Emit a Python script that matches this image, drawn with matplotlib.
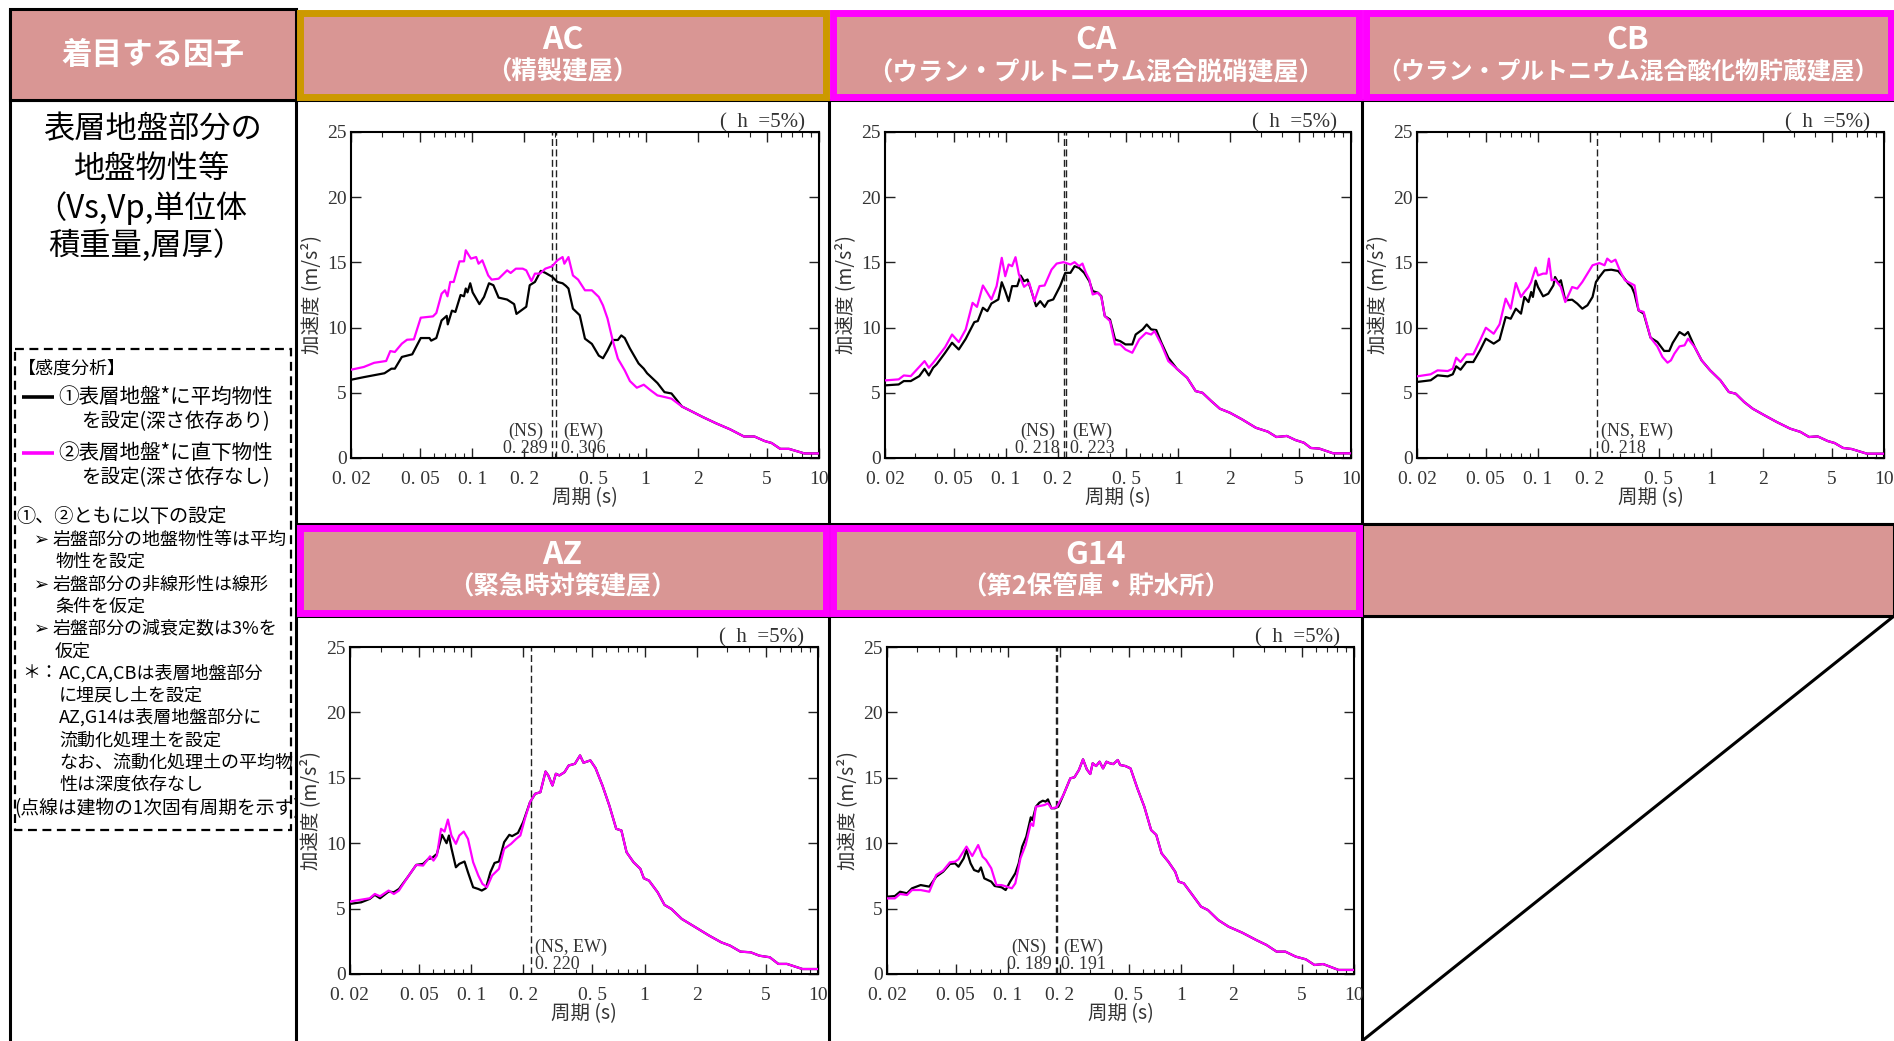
import matplotlib
matplotlib.use("Agg")
import matplotlib.pyplot as plt
from matplotlib.patches import Rectangle
from matplotlib.ticker import NullFormatter

plt.rcParams['font.family'] = ['Noto Sans CJK JP', 'DejaVu Sans']

W, H = 1894, 1041
PINK = '#D99694'
GOLD = '#CC9900'
MAGENTA = '#FF00FF'
GRAY = '#333333'
SERIF = ['Liberation Serif', 'DejaVu Serif']

# ---------------- data: response spectra (period s, acceleration m/s2) ----------------
# AC
ac_black_T = [0.020, 0.0237, 0.0312, 0.0342, 0.0358, 0.0393, 0.0451, 0.0505, 0.0567, 0.058, 0.0621,
              0.0666, 0.0713, 0.0723, 0.0764, 0.080, 0.0857, 0.0897, 0.0918, 0.0939, 0.0974, 0.1006,
              0.110, 0.117, 0.125, 0.1325, 0.142, 0.159, 0.1745, 0.180, 0.191, 0.205, 0.2146, 0.230,
              0.2486, 0.264, 0.289, 0.310, 0.332, 0.347, 0.359, 0.381, 0.417, 0.447, 0.490, 0.537,
              0.568, 0.603, 0.646, 0.692, 0.724, 0.758, 0.812, 0.911, 0.976, 1.02, 1.17, 1.285, 1.41,
              1.62, 1.86, 2.13, 2.56, 3.07, 3.69, 4.24, 4.86, 5.33, 5.98, 6.71, 8.24, 10.0]
ac_black_A = [6.0, 6.2, 6.5, 6.85, 6.85, 7.75, 7.95, 9.2, 9.2, 9.0, 9.2,
              10.55, 10.9, 10.25, 11.3, 11.2, 12.5, 12.4, 13.0, 12.7, 13.4, 12.7,
              11.8, 12.35, 13.4, 13.25, 12.3, 12.15, 11.8, 11.05, 11.3, 11.6, 13.25, 13.5,
              14.35, 14.2, 13.9, 13.5, 13.4, 13.2, 13.0, 11.45, 10.95, 9.15, 8.75, 7.85,
              7.65, 8.25, 9.05, 9.05, 9.4, 9.2, 8.4, 7.25, 6.85, 6.5, 5.75, 5.05, 4.95,
              3.95, 3.55, 3.15, 2.65, 2.2, 1.65, 1.65, 1.3, 1.15, 0.7, 0.7, 0.35, 0.35]
ac_mag_T = [0.020, 0.0237, 0.0272, 0.0319, 0.0337, 0.0358, 0.0393, 0.0421, 0.0461, 0.0505, 0.0594,
            0.0621, 0.0666, 0.0697, 0.072, 0.0747, 0.0782, 0.0845, 0.0897, 0.0918, 0.0983, 0.1054,
            0.1088, 0.1144, 0.1237, 0.1295, 0.142, 0.159, 0.1667, 0.1786, 0.1957, 0.205, 0.2196,
            0.230, 0.2462, 0.264, 0.289, 0.310, 0.332, 0.340, 0.359, 0.381, 0.408, 0.447, 0.490,
            0.537, 0.568, 0.603, 0.646, 0.692, 0.758, 0.812, 0.890, 0.976, 1.069, 1.17, 1.285,
            1.41, 1.62, 1.86, 2.13, 2.56, 3.07, 3.69, 4.24, 4.86, 5.33, 5.98, 6.71, 8.24, 10.0]
ac_mag_A = [6.77, 6.98, 7.3, 7.44, 8.2, 8.13, 8.77, 9.07, 9.1, 10.76, 10.86,
            11.12, 12.6, 12.86, 12.4, 13.5, 13.5, 15.08, 15.08, 15.93, 15.29, 15.41,
            14.9, 15.16, 14.0, 13.68, 13.75, 14.39, 14.19, 14.52, 14.52, 14.39, 13.57,
            14.14, 14.14, 14.52, 14.7, 15.16, 15.41, 14.9, 15.41, 14.0, 13.68, 12.86, 12.86,
            12.35, 11.7, 10.7, 9.02, 7.62, 6.72, 5.9, 5.39, 5.62, 5.19, 4.8, 4.68,
            4.55, 3.95, 3.55, 3.15, 2.65, 2.2, 1.65, 1.65, 1.3, 1.15, 0.7, 0.7, 0.35, 0.35]

# CA
ca_black_T = [0.020, 0.0240, 0.0257, 0.0282, 0.0316, 0.0339, 0.0359, 0.0380, 0.0398, 0.0446, 0.0489,
              0.0535, 0.0587, 0.0658, 0.0689, 0.0738, 0.0783, 0.0827, 0.0907, 0.0949, 0.0994, 0.104,
              0.1089, 0.1166, 0.1221, 0.1278, 0.1338, 0.140, 0.150, 0.1585, 0.168, 0.176, 0.1886,
              0.2066, 0.2214, 0.2372, 0.2506, 0.266, 0.2848, 0.305, 0.319, 0.342, 0.358, 0.375, 0.402,
              0.430, 0.461, 0.494, 0.541, 0.566, 0.621, 0.656, 0.696, 0.745, 0.798, 0.875]
ca_black_A = [5.57, 5.64, 5.9, 5.9, 6.28, 6.84, 6.33, 6.92, 7.18, 8.07, 8.84,
              8.32, 9.14, 10.42, 10.5, 11.52, 11.26, 11.85, 12.16, 13.48, 12.8, 12.03,
              13.18, 13.18, 13.99, 13.56, 13.69, 12.92, 11.64, 12.03, 11.59, 12.03, 12.16,
              13.18, 14.2, 14.2, 14.71, 14.58, 14.2, 13.56, 12.8, 12.67, 12.41, 10.88, 10.62,
              9.09, 8.96, 8.71, 8.71, 9.47, 9.86, 10.24, 9.86, 9.81, 8.84, 7.69]
ca_mag_T = [0.020, 0.0240, 0.0257, 0.0282, 0.0339, 0.0359, 0.0380, 0.0446, 0.0489, 0.0535, 0.0587,
            0.0643, 0.0682, 0.0738, 0.0827, 0.0886, 0.0949, 0.0994, 0.104, 0.1089, 0.114, 0.1193,
            0.1278, 0.1369, 0.1466, 0.157, 0.168, 0.1844, 0.1974, 0.2164, 0.2372, 0.2506, 0.266,
            0.2784, 0.2914, 0.305, 0.319, 0.342, 0.358, 0.375, 0.402, 0.430, 0.461, 0.494, 0.541,
            0.593, 0.650, 0.696, 0.728, 0.798, 0.875]
ca_mag_A = [5.95, 6.03, 6.33, 6.28, 7.43, 6.92, 7.3, 8.5, 9.47, 8.89, 9.86,
            11.9, 11.59, 13.23, 12.16, 13.18, 15.35, 13.94, 14.84, 14.71, 15.4, 14.07,
            13.13, 13.43, 12.03, 13.18, 13.23, 14.45, 14.91, 15.02, 14.84, 15.02, 14.71,
            14.91, 14.2, 13.69, 12.54, 12.67, 12.36, 10.88, 10.5, 8.71, 8.71, 8.32, 8.07,
            9.09, 9.6, 9.47, 9.73, 8.71, 7.43]
ca_tail_T = [0.981, 1.125, 1.26, 1.38, 1.55, 1.74, 1.99, 2.34, 2.81, 3.30, 3.70, 4.25, 4.76,
             5.34, 5.85, 6.56, 7.88, 10.0]
ca_tail_A = [6.84, 6.15, 5.13, 5.0, 4.37, 3.78, 3.47, 2.96, 2.32, 2.02, 1.61, 1.69, 1.38,
             1.17, 0.77, 0.72, 0.36, 0.36]

# CB
cb_black_T = [0.020, 0.0240, 0.0263, 0.0301, 0.0322, 0.0337, 0.0357, 0.0386, 0.0423, 0.0463, 0.0500,
              0.0555, 0.0600, 0.0651, 0.0696, 0.0745, 0.0798, 0.0835, 0.0882, 0.0914, 0.0935, 0.0970,
              0.1001, 0.1071, 0.1147, 0.1228, 0.1256, 0.1314, 0.1357, 0.1439, 0.1576, 0.1687, 0.1805,
              0.1932, 0.2068, 0.2164, 0.2265, 0.2425, 0.2654, 0.2907, 0.3112, 0.3330, 0.3484, 0.3614,
              0.3816, 0.4084, 0.4474, 0.4898, 0.5362, 0.5738, 0.6006, 0.6576, 0.704, 0.7368, 0.8066]
cb_black_A = [5.83, 5.96, 6.34, 6.26, 6.42, 7.03, 6.77, 7.36, 7.36, 8.26, 9.15,
              8.77, 9.07, 10.81, 10.68, 11.45, 11.07, 12.35, 11.96, 12.73, 12.35, 13.6,
              13.11, 12.4, 12.6, 13.24, 13.88, 13.42, 13.63, 12.09, 12.14, 11.84, 11.45,
              11.71, 12.35, 13.5, 13.88, 14.39, 14.44, 14.34, 13.88, 13.37, 13.11, 12.6,
              11.32, 11.07, 9.23, 8.9, 8.21, 8.21, 8.82, 9.66, 9.41, 9.66, 8.49]
cb_mag_T = [0.020, 0.0240, 0.0263, 0.0301, 0.0322, 0.0337, 0.0357, 0.0386, 0.0423, 0.0463, 0.0500,
            0.0555, 0.0600, 0.0651, 0.0696, 0.0745, 0.0798, 0.0835, 0.0882, 0.0914, 0.0970, 0.1001,
            0.1071, 0.1121, 0.1157, 0.1200, 0.1256, 0.1357, 0.1439, 0.1576, 0.1687, 0.1805, 0.1932,
            0.2068, 0.2265, 0.2425, 0.2514, 0.2654, 0.2804, 0.2974, 0.3182, 0.3406, 0.3614, 0.3816,
            0.4084, 0.4474, 0.4898, 0.5242, 0.561, 0.587, 0.6144, 0.6576, 0.704, 0.7368, 0.8066]
cb_mag_A = [6.26, 6.42, 6.72, 6.67, 6.85, 7.69, 7.36, 7.95, 7.95, 9.02, 9.99,
            9.53, 10.25, 12.22, 11.45, 13.42, 12.35, 12.73, 13.11, 13.5, 14.6, 14.0,
            14.14, 14.14, 15.29, 13.63, 13.68, 13.11, 11.96, 13.11, 12.99, 13.5, 14.14,
            14.78, 14.95, 14.78, 15.29, 15.03, 15.21, 14.39, 13.63, 13.42, 13.24, 11.32,
            11.2, 9.23, 8.56, 7.75, 7.31, 7.49, 8.0, 8.56, 8.64, 9.15, 8.49]
cb_tail_T = [0.883, 0.989, 1.133, 1.269, 1.39, 1.557, 1.744, 2.04, 2.40, 2.87, 3.29, 3.69, 4.13,
             4.73, 5.18, 5.80, 6.50, 7.97, 10.0]
cb_tail_A = [7.49, 6.72, 5.96, 5.06, 4.93, 4.29, 3.78, 3.27, 2.76, 2.25, 2.0, 1.61, 1.66,
             1.3, 1.15, 0.77, 0.69, 0.33, 0.33]

# AZ
az_black_T = [0.020, 0.0232, 0.0260, 0.0278, 0.0298, 0.0334, 0.0358, 0.0383, 0.0430, 0.0482, 0.0528,
              0.0566, 0.0592, 0.0634, 0.0679, 0.0721, 0.0744, 0.0769, 0.0816, 0.0854, 0.0915, 0.0958,
              0.1026, 0.1099, 0.1151, 0.1216, 0.1290, 0.1363, 0.1446, 0.1549, 0.1659, 0.1721, 0.1861,
              0.1993]
az_black_A = [5.36, 5.48, 5.74, 6.05, 5.79, 6.3, 6.25, 6.5, 7.4, 8.34, 8.42,
              8.8, 8.85, 9.18, 10.64, 10.0, 10.59, 9.62, 8.16, 8.42, 8.6, 7.78,
              6.63, 6.5, 6.38, 6.56, 7.78, 8.49, 8.6, 10.08, 10.64, 10.54, 10.79,
              11.61]
az_mag_T = [0.020, 0.0260, 0.0278, 0.0298, 0.0334, 0.0358, 0.0383, 0.0430, 0.0482, 0.0528, 0.0579,
            0.0606, 0.0634, 0.0670, 0.0702, 0.0734, 0.0769, 0.0816, 0.0854, 0.0906, 0.0958, 0.1026,
            0.1099, 0.1161, 0.1233, 0.1320, 0.1446, 0.1549, 0.1698, 0.1818, 0.1921, 0.2039]
az_mag_A = [5.54, 5.79, 6.12, 5.94, 6.38, 6.12, 6.38, 7.4, 8.34, 8.29, 9.0,
            8.67, 9.06, 11.1, 10.89, 11.81, 10.59, 9.95, 10.59, 10.89, 10.33, 8.55,
            7.53, 6.89, 6.63, 7.53, 8.04, 9.57, 9.95, 10.33, 10.59, 11.86]
az_tail_T = [0.2184, 0.2339, 0.2506, 0.2684, 0.2784, 0.2942, 0.3078, 0.3224, 0.3454, 0.3648, 0.3962,
             0.4244, 0.4442, 0.4866, 0.5214, 0.5714, 0.626, 0.686, 0.735, 0.787, 0.863, 0.945,
             0.990, 1.060, 1.189, 1.303, 1.428, 1.638, 1.967, 2.36, 2.77, 3.11, 3.57, 4.09, 4.59,
             5.27, 5.91, 6.62, 8.14, 10.0]
az_tail_A = [13.14, 13.78, 13.9, 15.48, 15.18, 14.41, 15.31, 15.18, 15.43, 15.94, 16.07,
             16.71, 16.15, 16.33, 15.74, 14.41, 12.88, 11.1, 10.97, 9.31, 8.55, 8.04,
             7.32, 7.14, 6.25, 5.28, 4.97, 4.21, 3.57, 2.93, 2.42, 2.17, 1.71, 1.66, 1.4,
             1.28, 0.77, 0.77, 0.38, 0.38]

# G14
g14_black_T = [0.020, 0.0222, 0.0238, 0.0261, 0.0279, 0.0313, 0.0351, 0.0385, 0.0422, 0.0462, 0.0495,
               0.0518, 0.0555, 0.0576, 0.0608, 0.0637, 0.0676, 0.0698, 0.0730, 0.0801, 0.0838, 0.0918,
               0.0970, 0.1030, 0.1103, 0.1154, 0.1208, 0.1277, 0.1355, 0.1386, 0.1451, 0.1519, 0.1590,
               0.1650, 0.1703, 0.1783, 0.1867, 0.1954]
g14_black_A = [5.91, 5.96, 6.29, 6.17, 6.55, 6.8, 6.68, 7.44, 7.82, 8.41, 8.46,
               8.2, 8.84, 9.48, 8.46, 7.95, 7.82, 8.15, 7.31, 7.06, 6.73, 6.63,
               6.42, 7.06, 7.7, 8.46, 9.73, 10.5, 11.98, 11.77, 12.79, 13.1, 13.25,
               13.18, 13.35, 12.67, 12.67, 12.79]
g14_mag_T = [0.020, 0.0222, 0.0238, 0.0261, 0.0279, 0.0313, 0.0351, 0.0385, 0.0422, 0.0462, 0.0495,
             0.0518, 0.0576, 0.0622, 0.0673, 0.0714, 0.0747, 0.0801, 0.0858, 0.0918, 0.0984, 0.1053,
             0.1103, 0.1181, 0.1265, 0.1355, 0.1399, 0.1451, 0.1519, 0.1627, 0.1703, 0.1783, 0.1910]
g14_mag_A = [5.78, 5.78, 6.12, 6.04, 6.42, 6.42, 6.29, 7.57, 7.9, 8.54, 8.59,
             8.77, 9.74, 9.02, 9.86, 8.97, 8.72, 8.08, 6.8, 6.8, 6.68, 6.55,
             6.93, 8.84, 9.86, 11.52, 11.32, 12.79, 12.84, 12.92, 13.05, 12.67, 12.74]
g14_tail_T = [0.2092, 0.2294, 0.2423, 0.2572, 0.2716, 0.2856, 0.2990, 0.3088, 0.3232, 0.3384, 0.3544,
              0.3708, 0.3882, 0.4064, 0.4312, 0.4454, 0.477, 0.511, 0.560, 0.614, 0.672, 0.720,
              0.772, 0.845, 0.926, 0.970, 1.039, 1.165, 1.306, 1.431, 1.641, 1.883, 2.26, 2.72,
              3.12, 3.57, 4.01, 4.60, 5.27, 5.91, 6.63, 8.14, 10.0]
g14_tail_A = [13.69, 14.96, 15.04, 15.6, 16.41, 15.65, 15.29, 16.11, 15.9, 16.23, 15.72,
              16.23, 16.11, 16.05, 16.36, 15.98, 15.9, 15.72, 14.19, 12.79, 11.01, 10.63,
              9.23, 8.59, 7.82, 7.06, 6.93, 6.04, 5.15, 4.89, 4.13, 3.62, 3.16, 2.6,
              2.22, 1.71, 1.71, 1.33, 1.12, 0.69, 0.76, 0.31, 0.31]

# natural periods of the buildings
ac_periods = [0.289, 0.306]
ca_periods = [0.218, 0.223]
cb_periods = [0.218]
az_periods = [0.220]
g14_periods = [0.189, 0.191]

x_ticks = [0.02, 0.05, 0.1, 0.2, 0.5, 1, 2, 5, 10]
x_tick_labels = ['0. 02', '0. 05', '0. 1', '0. 2', '0. 5', '1', '2', '5', '10']
y_ticks = [0, 5, 10, 15, 20, 25]

top_titles = [('AC', '（精製建屋）'),
              ('CA', '（ウラン・プルトニウム混合脱硝建屋）'),
              ('CB', '（ウラン・プルトニウム混合酸化物貯蔵建屋）')]
bottom_titles = [('AZ', '（緊急時対策建屋）'),
                 ('G14', '（第2保管庫・貯水所）')]

# ---------------- figure ----------------
fig = plt.figure(figsize=(W / 100, H / 100), dpi=100)
bg = fig.add_axes([0, 0, 1, 1])
bg.set_xlim(0, W)
bg.set_ylim(H, 0)
bg.axis('off')

# table grid
gk = dict(color='black', lw=2.2, zorder=1, solid_capstyle='butt')
bg.plot([10, 10], [9, H], **gk)
bg.plot([296, 296], [9, H], **gk)
bg.plot([829, 829], [100, H], **gk)
bg.plot([1362, 1362], [100, H], **gk)
bg.plot([10, W], [100, 100], **gk)
bg.plot([296, W], [524, 524], **gk)
bg.plot([296, W], [616, 616], **gk)
bg.plot([1362, W], [H, 616], **gk)

bg.add_patch(Rectangle((10, 9), 286, 91, fc=PINK, ec='black', lw=2.2, zorder=2))
bg.add_patch(Rectangle((1362, 524), W - 1362, 92, fc=PINK, ec='black', lw=2.2, zorder=2))


def header_box(x0, y0, x1, y1, color, name, sub, subsize=18.3):
    bg.add_patch(Rectangle((x0 + 3.5, y0 + 3.5), x1 - x0 - 7, y1 - y0 - 7,
                           fc=PINK, ec=color, lw=5, zorder=3))
    cx = (x0 + x1) / 2
    bg.text(cx, y0 + 31, name, color='white', fontsize=23, fontweight='bold',
            ha='center', va='center', zorder=4)
    bg.text(cx, y0 + 63, sub, color='white', fontsize=subsize, fontweight='bold',
            ha='center', va='center', zorder=4)


header_box(296, 9, 829, 100, GOLD, *top_titles[0])
header_box(829, 9, 1362, 100, MAGENTA, *top_titles[1])
header_box(1362, 9, W, 100, MAGENTA, *top_titles[2], subsize=17.2)
header_box(296, 524, 829, 616, MAGENTA, *bottom_titles[0])
header_box(829, 524, 1362, 616, MAGENTA, *bottom_titles[1])

bg.text(153, 55, '着目する因子', color='white', fontsize=22, fontweight='bold',
        ha='center', va='center', zorder=4)

# factor description
bg.text(152, 129, '表層地盤部分の', fontsize=22.5, ha='center', va='center')
bg.text(152, 169, '地盤物性等', fontsize=22.5, ha='center', va='center')
bg.text(35, 208, '（Vs,Vp,単位体', fontsize=22.5, ha='left', va='center')
bg.text(48, 246, '積重量,層厚）', fontsize=22.5, ha='left', va='center')

# legend box
bg.add_patch(Rectangle((15, 349), 276, 481, fill=False, ec='black', lw=1.6,
                       ls=(0, (4, 2.5)), zorder=2))
bg.text(18, 369, '【感度分析】', fontsize=13, ha='left', va='center')
bg.plot([22, 54], [397, 397], color='black', lw=2.6, solid_capstyle='butt')
bg.text(58, 397, '①表層地盤*に平均物性', fontsize=14.8, ha='left', va='center')
bg.text(81, 422, 'を設定(深さ依存あり)', fontsize=14, ha='left', va='center')
bg.plot([22, 54], [453, 453], color=MAGENTA, lw=2.6, solid_capstyle='butt')
bg.text(58, 453, '②表層地盤*に直下物性', fontsize=14.8, ha='left', va='center')
bg.text(81, 478, 'を設定(深さ依存なし)', fontsize=14, ha='left', va='center')

ns = 13
bg.text(16, 517, '①、②ともに以下の設定', fontsize=13.8, ha='left', va='center')
for yy, txt in [(540, '岩盤部分の地盤物性等は平均'), (585, '岩盤部分の非線形性は線形'),
                (629, '岩盤部分の減衰定数は3%を')]:
    bg.text(34, yy, '➢', fontsize=13, ha='left', va='center', family='DejaVu Sans')
    bg.text(53, yy, txt, fontsize=ns, ha='left', va='center')
bg.text(55, 562, '物性を設定', fontsize=ns, ha='left', va='center')
bg.text(55, 607, '条件を仮定', fontsize=ns, ha='left', va='center')
bg.text(55, 652, '仮定', fontsize=ns, ha='left', va='center')
bg.text(22, 673, '＊：', fontsize=ns, ha='left', va='center')
notes = ['AC,CA,CBは表層地盤部分', 'に埋戻し土を設定', 'AZ,G14は表層地盤部分に',
         '流動化処理土を設定', 'なお、流動化処理土の平均物', '性は深度依存なし']
for i, txt in enumerate(notes):
    bg.text(59, 673 + i * 22.4, txt, fontsize=ns, ha='left', va='center')
bg.text(14, 809, '(点線は建物の1次固有周期を示す)', fontsize=13.5, ha='left', va='center')


# ---------------- charts ----------------
def chart(rect, bT, bA, mT, mA, periods, labels, single=False):
    l, t, r, b = rect
    ax = fig.add_axes([l / W, 1 - b / H, (r - l) / W, (b - t) / H])
    ax.set_xscale('log')
    ax.plot(bT, bA, color='black', lw=1.6, zorder=3)
    ax.plot(mT, mA, color=MAGENTA, lw=1.6, zorder=4)
    for p in periods:
        ax.axvline(p, color='#222222', lw=1.0, ls=(0, (5, 2.5)), zorder=2)
    ann = dict(textcoords='offset points', va='bottom', fontsize=13,
               family=SERIF, color=GRAY, linespacing=0.95)
    if single:
        ax.annotate(labels[0], xy=(periods[0], 0), xytext=(3, 1), ha='left',
                    multialignment='left', **ann)
    else:
        ax.annotate(labels[0], xy=(periods[0], 0), xytext=(-3, 1), ha='right',
                    multialignment='center', **ann)
        ax.annotate(labels[1], xy=(periods[1], 0), xytext=(3, 1), ha='left',
                    multialignment='center', **ann)
    ax.set_xlim(0.02, 10)
    ax.set_ylim(0, 25)
    ax.set_xticks(x_ticks)
    ax.set_xticklabels(x_tick_labels, family=SERIF, fontsize=14, color=GRAY)
    ax.xaxis.set_minor_formatter(NullFormatter())
    ax.set_yticks(y_ticks)
    ax.set_yticklabels([str(v) for v in y_ticks], family=SERIF, fontsize=14, color=GRAY)
    ax.tick_params(which='both', direction='in', top=True, right=True, color='#222222')
    ax.tick_params(which='major', length=7, width=1.0, pad=3)
    ax.tick_params(axis='x', which='major', pad=9)
    ax.tick_params(which='minor', length=3.5, width=0.8)
    for s in ax.spines.values():
        s.set_linewidth(1.5)
    ax.set_xlabel('周期 (s)', fontsize=14, color=GRAY, labelpad=0)
    ax.set_ylabel('加速度 (m/s²)', fontsize=14, color=GRAY, labelpad=4)
    ax.annotate('(  h  =5%)', xy=(1, 1), xycoords='axes fraction', xytext=(-10, 0),
                textcoords='offset points', ha='right', va='bottom', fontsize=15,
                family=SERIF, color=GRAY)
    return ax


chart((351, 132, 819, 458), ac_black_T, ac_black_A, ac_mag_T, ac_mag_A,
      ac_periods, ['(NS)\n0. 289', '(EW)\n0. 306'])
chart((885, 132, 1351, 458), ca_black_T + ca_tail_T, ca_black_A + ca_tail_A,
      ca_mag_T + ca_tail_T, ca_mag_A + ca_tail_A,
      ca_periods, ['(NS)\n0. 218', '(EW)\n0. 223'])
chart((1417, 132, 1884, 458), cb_black_T + cb_tail_T, cb_black_A + cb_tail_A,
      cb_mag_T + cb_tail_T, cb_mag_A + cb_tail_A,
      cb_periods, ['(NS, EW)\n0. 218'], single=True)
chart((350, 647, 818, 974), az_black_T + az_tail_T, az_black_A + az_tail_A,
      az_mag_T + az_tail_T, az_mag_A + az_tail_A,
      az_periods, ['(NS, EW)\n0. 220'], single=True)
chart((887, 647, 1354, 974), g14_black_T + g14_tail_T, g14_black_A + g14_tail_A,
      g14_mag_T + g14_tail_T, g14_mag_A + g14_tail_A,
      g14_periods, ['(NS)\n0. 189', '(EW)\n0. 191'])

fig.savefig('out.png', dpi=100)
